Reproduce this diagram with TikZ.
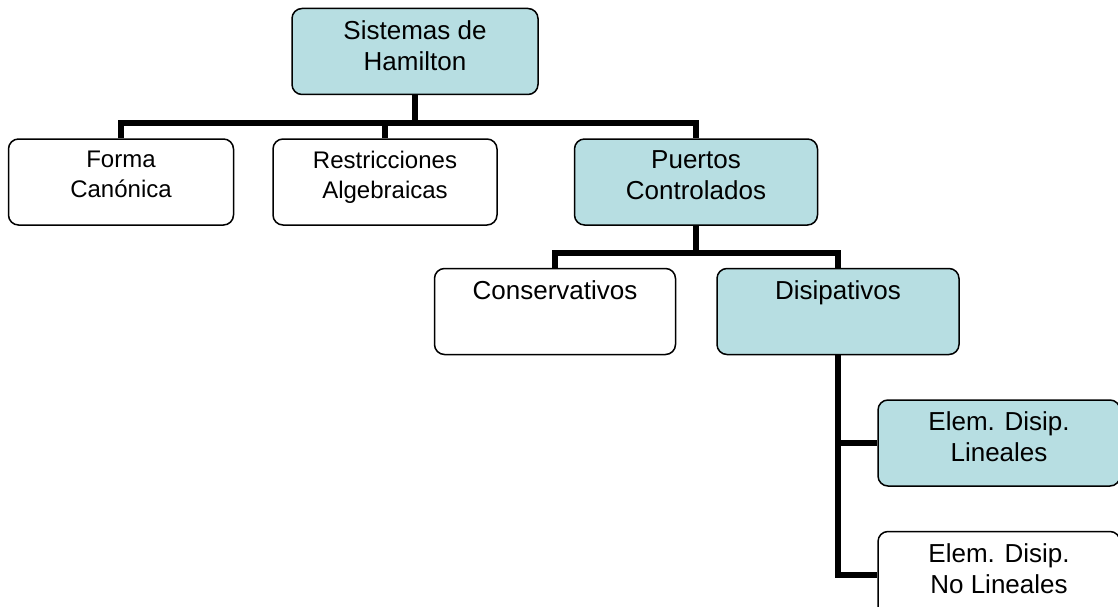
\documentclass[tikz,border=0pt]{standalone}
\usepackage{fontspec}
\setmainfont{Liberation Sans}
\usepackage{tikz}
\usetikzlibrary{positioning,calc}
\definecolor{celeste}{RGB}{183,222,226}
\newcommand{\caja}[2]{\parbox[c][86pt][t]{#1}{\centering\vspace*{12pt}#2}}

\begin{document}
\begin{tikzpicture}
            [
            x=1pt, y=-1pt,
            box/.style={draw, rounded corners=10pt, line width=1.5pt,
                inner sep=0pt, font=\fontsize{26pt}{31pt}\selectfont},
            blue box/.style={box, fill=celeste},
            small text/.style={font=\fontsize{24pt}{30pt}\selectfont},
            branch/.style={line width=6pt}
            ]
            \useasboundingbox (0,0) rectangle (1118,607);

            \node (sis) [blue box] at (415,51.5) {\caja{246pt}{Sistemas de\\Hamilton}};
            \node (restr) [below=43pt of sis, xshift=-30pt, box, small text] {\caja{224pt}{Restricciones\\Algebraicas}};
            \node (forma) [left=38pt of restr, box, small text] {\caja{225pt}{Forma\\Canónica}};
            \node (puertos) [right=76pt of restr, blue box] {\caja{243pt}{Puertos\\Controlados}};

            % Second level
            \node (cons) [below=42pt of puertos, xshift=-141pt, box] {\caja{241pt}{Conservativos}};
            \node (disip) [right=40pt of cons, blue box] {\caja{242pt}{Disipativos}};
            \node (lin) [below=44pt of disip, xshift=161pt, blue box] {\caja{242pt}{Elem. Disip.\\Lineales}};
            \node (nolin) [below=44pt of lin, box] {\caja{242pt}{Elem. Disip.\\No Lineales}};

            \coordinate (bus1) at ($(sis.south)+(0,28)$);
            \coordinate (bus2) at ($(puertos.south)+(0,27)$);

            \draw [branch] (sis.south) -- (bus1);
            \draw [branch] (forma.north) |- (bus1) -| (puertos.north);
            \draw [branch] (restr.north) -- (restr.north |- bus1);

            \draw [branch] (puertos.south) -- (bus2);
            \draw [branch] (cons.north) |- (bus2) -| (disip.north);

            \draw [branch] (disip.south) |- (lin.west);
            \draw [branch] (disip.south) |- (nolin.west);

        \end{tikzpicture}
\end{document}
